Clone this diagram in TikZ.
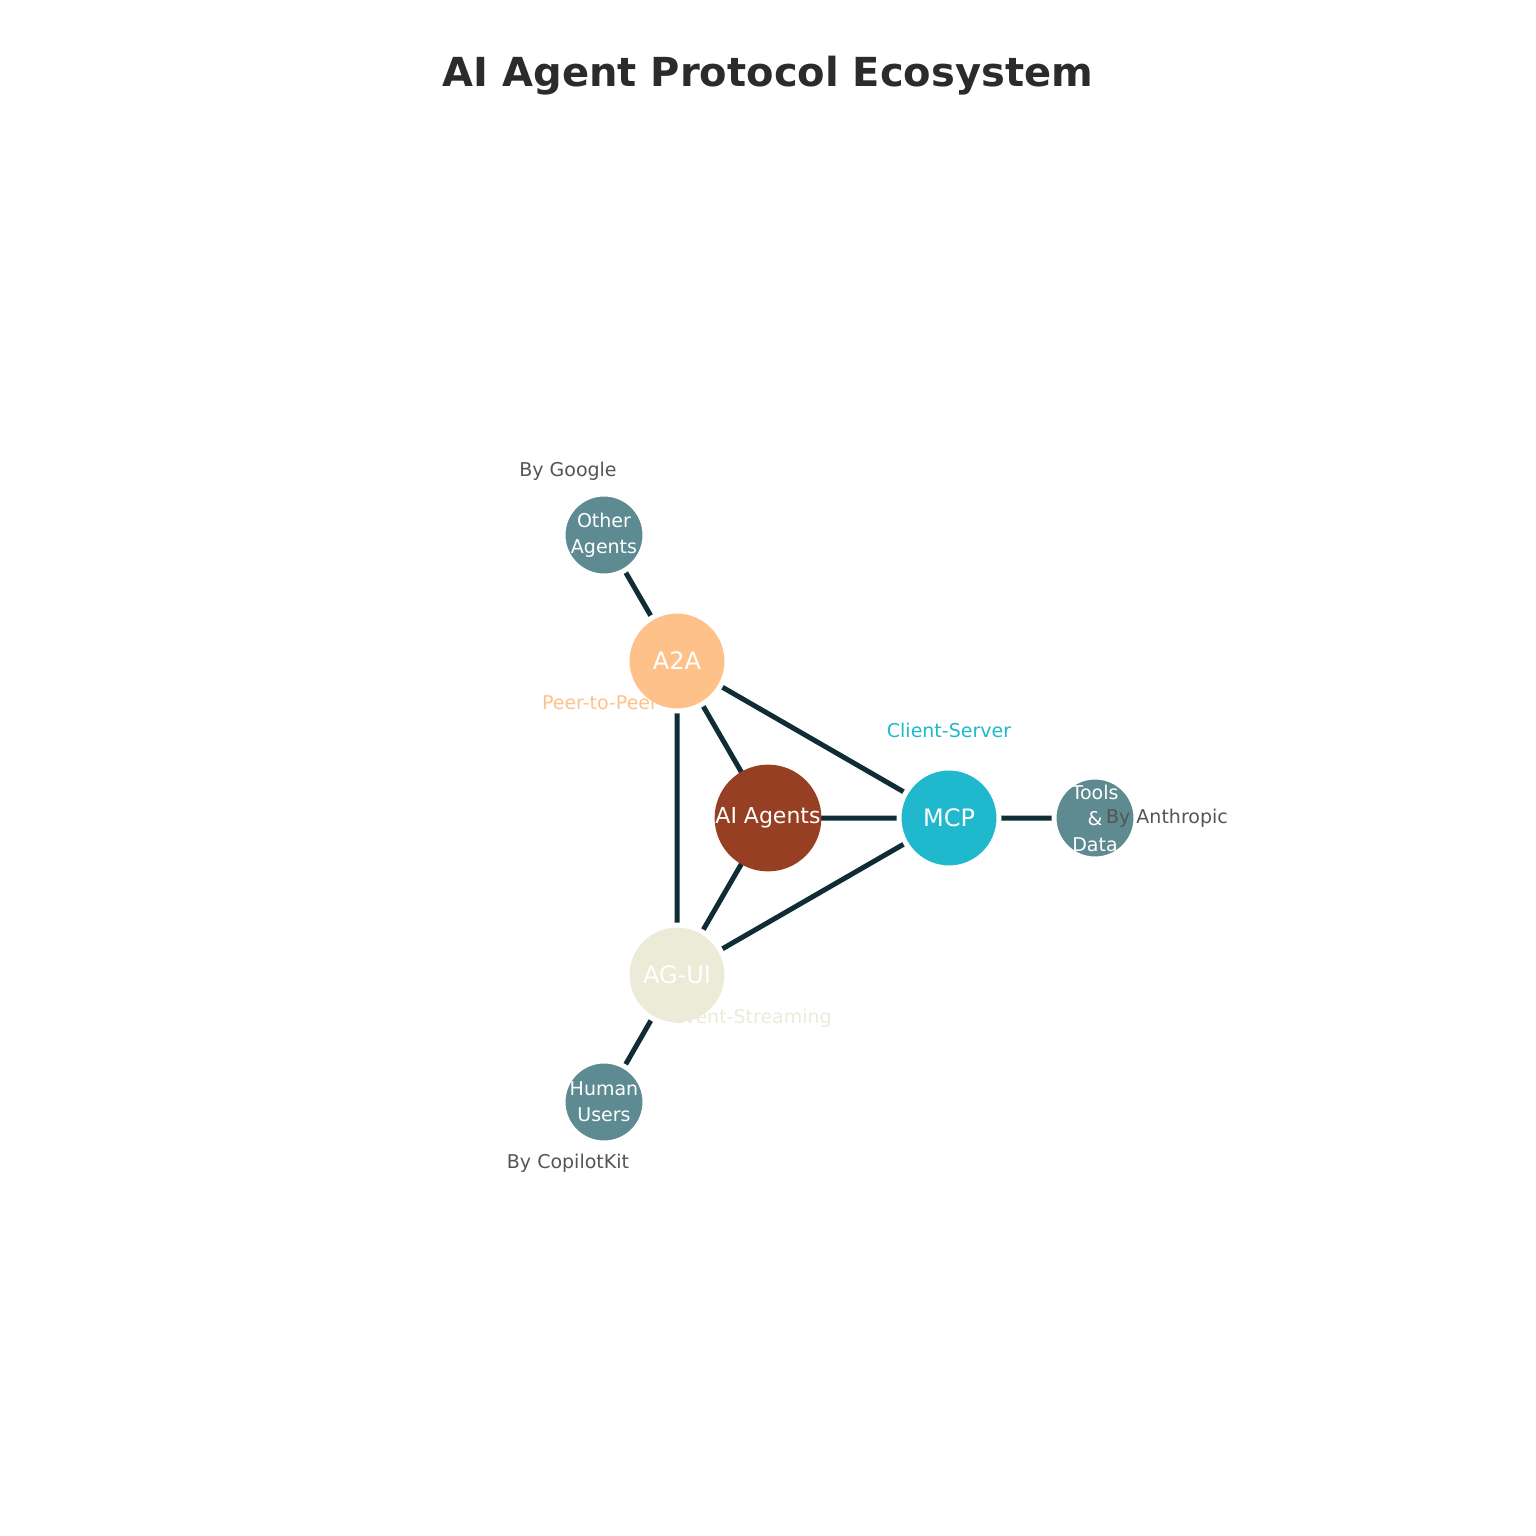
\documentclass[tikz,border=0pt]{standalone}
\usepackage{fontspec}
\setmainfont{DejaVu Sans}
\definecolor{edge}{HTML}{0F2D35}
\definecolor{ca}{HTML}{FFC18A}
\definecolor{cm}{HTML}{1FB8CC}
\definecolor{cg}{HTML}{ECEBD8}
\definecolor{cb}{HTML}{963F22}
\definecolor{cs}{HTML}{5E8A91}
\definecolor{gr}{HTML}{555555}
\begin{document}
\begin{tikzpicture}[x=0.5pt,y=-0.5pt,
  big/.style={circle,draw=white,line width=2.5pt,minimum size=93\pgflinewidth/2.5,inner sep=0pt,text=white,font=\fontsize{12}{13}\selectfont},
  small/.style={circle,draw=white,line width=2.5pt,fill=cs,minimum size=38pt,inner sep=0pt,text=white,font=\fontsize{9.5}{13}\selectfont,align=center},
  lab/.style={font=\fontsize{9.5}{11}\selectfont},
  ln/.style={draw=edge,line width=2.5pt}]
\useasboundingbox (0,0) rectangle (1536,1536);
\node[font=\bfseries\fontsize{20}{24}\selectfont,text={rgb,255:red,43;green,43;blue,43}] (t) at (768,76) {AI Agent Protocol Ecosystem};
\coordinate (pa) at (677,661);
\coordinate (pm) at (949,818);
\coordinate (pg) at (677,975);
\coordinate (pb) at (768,818);
\coordinate (po) at (604,535);
\coordinate (pt) at (1095,818);
\coordinate (ph) at (604,1102);
\draw[ln] (pa)--(pm) (pm)--(pg) (pg)--(pa) (pa)--(pb) (pm)--(pb) (pg)--(pb) (pa)--(po) (pm)--(pt) (pg)--(ph);
\node[small,minimum size=41pt] (o) at (po) {Other\\Agents};
\node[small,minimum size=41pt] (td) at (pt) {Tools\\\&\\Data};
\node[small,minimum size=41pt] (h) at (ph) {Human\\Users};
\node[big,fill=ca,minimum size=50pt] (a) at (pa) {A2A};
\node[big,fill=cm,minimum size=50pt] (m) at (pm) {MCP};
\node[big,fill=cg,minimum size=50pt] (g) at (pg) {AG-UI};
\node[circle,fill=cb,minimum size=40pt,inner sep=0pt,text=white,font=\fontsize{11}{13}\selectfont] (b) at (pb) {AI Agents};
\node[lab,text=gr] (l1) at (568,471) {By Google};
\node[lab,text=ca] (l2) at (600,703) {Peer-to-Peer};
\node[lab,text=cm] (l3) at (949,730) {Client-Server};
\node[lab,text=cg] (l4) at (752,1018) {Event-Streaming};
\node[lab,text=gr] (l5) at (1167,818) {By Anthropic};
\node[lab,text=gr] (l6) at (568,1163) {By CopilotKit};
\end{tikzpicture}
\end{document}
